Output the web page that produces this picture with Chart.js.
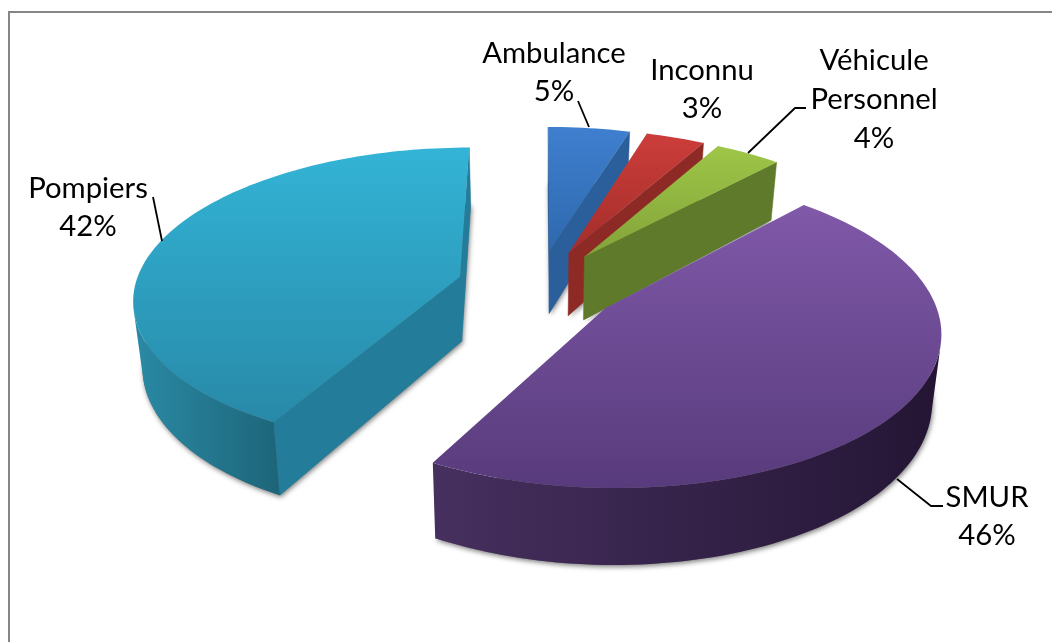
<!DOCTYPE html>
<html><head><meta charset="utf-8">
<style>html,body{margin:0;padding:0;background:#fff}canvas{display:block}</style>
<script src="https://cdn.jsdelivr.net/npm/chart.js@4"></script>
</head><body>
<canvas id="c" width="1052" height="642"></canvas>
<script>
const categories = ['Ambulance','Inconnu','Véhicule Personnel','SMUR','Pompiers'];
const values = [4.7,3.4,3.8,46.1,42.0];
const labelLines = [['Ambulance'],['Inconnu'],['Véhicule','Personnel'],['SMUR'],['Pompiers']];
const topColors = [['#3F7FCF','#2E69AE'],['#CC3D3A','#A32E2A'],['#9EC647','#82A33A'],['#8059A9','#583B7C'],['#33B4D6','#2889A8']];
const wallColors = [['#2B5F9C','#2B5F9C'],['#8E2A26','#8E2A26'],['#5F7A2B','#5F7A2B'],['#46305F','#241534'],['#2A8AA5','#1D6579']];
const radialColors = ['#2B5F9C','#8E2A26','#5F7A2B','#3C2855','#237D9A'];

const RADIUS=200, EXPLODE=50;
const A=325, B=149, P=0.135, D=65, SHRINK=0.977;

function project(c,u,v,bottom){
  const w=1-P*v;
  let x=A*u/w;
  if(bottom) x*=SHRINK;
  return [c.x+x, c.y+B*v/w+(bottom?D/w:0)];
}
function face(ctx,pts){
  ctx.beginPath();
  pts.forEach((p,i)=>i?ctx.lineTo(p[0],p[1]):ctx.moveTo(p[0],p[1]));
  ctx.closePath();
}
function area(q){let s=0;for(let i=0;i<q.length;i++){const a=q[i],b=q[(i+1)%q.length];s+=a[0]*b[1]-b[0]*a[1];}return s/2;}
function vgrad(ctx,pts,cols){
  const ys=pts.map(p=>p[1]);
  const g=ctx.createLinearGradient(0,Math.min(...ys),0,Math.max(...ys));
  g.addColorStop(0,cols[0]);g.addColorStop(1,cols[1]);return g;
}
function hgrad(ctx,pts,cols){
  const xs=pts.map(p=>p[0]);
  const g=ctx.createLinearGradient(Math.min(...xs),0,Math.max(...xs),0);
  g.addColorStop(0,cols[0]);g.addColorStop(1,cols[1]);return g;
}

const pie3d={
  id:'pie3d',
  beforeDraw(chart){
    const ctx=chart.ctx;
    ctx.save();
    ctx.fillStyle='#fff';ctx.fillRect(0,0,1052,642);
    ctx.fillStyle='#868686';
    ctx.fillRect(8,11,1044,2);
    ctx.fillRect(8,11,2,631);
    ctx.restore();
  },
  beforeDatasetsDraw(chart){
    const ctx=chart.ctx, meta=chart.getDatasetMeta(0);
    const solids=meta.data.map((arc,i)=>{
      const p=arc.getProps(['x','y','startAngle','endAngle','outerRadius'],true);
      const mid=(p.startAngle+p.endAngle)/2, off=arc.options.offset/p.outerRadius;
      const ou=off*Math.cos(mid), ov=off*Math.sin(mid);
      const n=Math.max(6,Math.round((p.endAngle-p.startAngle)*40));
      const rim=[];
      for(let k=0;k<=n;k++){
        const t=p.startAngle+(p.endAngle-p.startAngle)*k/n;
        rim.push([ou+Math.cos(t),ov+Math.sin(t)]);
      }
      const top=rim.map(r=>project(p,r[0],r[1],false));
      const bot=rim.map(r=>project(p,r[0],r[1],true));
      const at=project(p,ou,ov,false), ab=project(p,ou,ov,true);
      return {i,top,bot,at,ab,n};
    });
    ctx.save();
    ctx.shadowColor='rgba(0,0,0,0.5)';ctx.shadowBlur=5;ctx.shadowOffsetX=1;ctx.shadowOffsetY=2;
    solids.forEach(s=>{
      ctx.fillStyle='#777';
      face(ctx,[s.ab,...s.bot]);ctx.fill();
    });
    ctx.restore();
    [0,1,2,4,3].forEach(idx=>{
      const s=solids[idx];
      const q1=[s.at,s.top[0],s.bot[0],s.ab];
      const q2=[s.at,s.ab,s.bot[s.n],s.top[s.n]];
      ctx.fillStyle=radialColors[idx];ctx.strokeStyle=radialColors[idx];ctx.lineWidth=.5;
      [q1,q2].forEach(q=>{ if(area(q)<0){face(ctx,q);ctx.fill();ctx.stroke();} });
      const run=[];
      for(let k=0;k<s.n;k++){
        if(area([s.top[k],s.bot[k],s.bot[k+1],s.top[k+1]])>0){ if(!run.length) run.push(k); run.push(k+1); }
      }
      if(run.length){
        const poly=[...run.map(k=>s.top[k]),...run.slice().reverse().map(k=>s.bot[k])];
        ctx.fillStyle=hgrad(ctx,poly,wallColors[idx]);
        face(ctx,poly);ctx.fill();
      }
      const poly=[s.at,...s.top];
      ctx.fillStyle=vgrad(ctx,poly,topColors[idx]);
      face(ctx,poly);ctx.fill();
    });
    return false;
  },
  afterDraw(chart){
    const ctx=chart.ctx;
    ctx.save();
    ctx.strokeStyle='#000';ctx.lineWidth=1.8;ctx.lineJoin='round';
    const leaders=[
      [[578,101],[589,127]],
      [[748,153],[795,108],[806,108]],
      [[153,197],[162,241]],
      [[897,479],[931,506],[943,506]]
    ];
    leaders.forEach(l=>{ctx.beginPath();l.forEach((p,i)=>i?ctx.lineTo(p[0],p[1]):ctx.moveTo(p[0],p[1]));ctx.stroke();});
    ctx.fillStyle='#000';ctx.font='29.3px Lato, "Open Sans", sans-serif';ctx.textAlign='center';ctx.textBaseline='middle';
    const anchors=[[554,54,38],[702,71,38],[874,61,39],[987,498,38],[88,189,38]];
    labelLines.forEach((lines,i)=>{
      const a=anchors[i];
      [...lines,Math.round(values[i])+'%'].forEach((t,j)=>ctx.fillText(t,a[0],a[1]+j*a[2]));
    });
    ctx.restore();
  }
};

new Chart(document.getElementById('c'),{
  type:'pie',
  data:{labels:categories,datasets:[{data:values,offset:EXPLODE,backgroundColor:topColors.map(c=>c[0]),borderWidth:0}]},
  options:{
    responsive:false,animation:false,radius:RADIUS,rotation:0,
    layout:{padding:{left:24,bottom:70}},
    plugins:{legend:{display:false},tooltip:{enabled:false}}
  },
  plugins:[pie3d]
});
</script>
</body></html>
